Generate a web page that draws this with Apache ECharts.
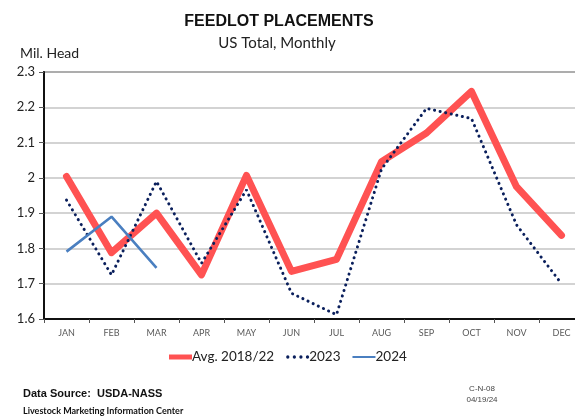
<!DOCTYPE html>
<html><head><meta charset="utf-8">
<script src="https://cdn.jsdelivr.net/npm/echarts@6/dist/echarts.min.js"></script>
<style>html,body{margin:0;padding:0;background:#fff;overflow:hidden;width:575px;height:416px}#c{width:585px;height:416px}</style>
</head><body><div id="c"></div>
<script>
const months = ['JAN','FEB','MAR','APR','MAY','JUN','JUL','AUG','SEP','OCT','NOV','DEC'];
const avg1822 = [2.004, 1.788, 1.900, 1.725, 2.007, 1.735, 1.769, 2.046, 2.127, 2.245, 1.975, 1.837];
const y2023 = [1.937, 1.725, 1.990, 1.758, 1.966, 1.673, 1.612, 2.025, 2.197, 2.168, 1.867, 1.700];
const y2024 = [1.791, 1.890, 1.745];
const yTicks = [1.6, 1.7, 1.8, 1.9, 2.0, 2.1, 2.2, 2.3];

const dotsPath = 'path://M1,4 a1.5,1.5 0 1,0 3,0 a1.5,1.5 0 1,0 -3,0 Z M7,4 a1.5,1.5 0 1,0 3,0 a1.5,1.5 0 1,0 -3,0 Z M13,4 a1.5,1.5 0 1,0 3,0 a1.5,1.5 0 1,0 -3,0 Z M19,4 a1.5,1.5 0 1,0 3,0 a1.5,1.5 0 1,0 -3,0 Z';

const chart = echarts.init(document.getElementById('c'), null, {renderer:'canvas'});
chart.setOption({
  animation:false,
  backgroundColor:'#fff',
  grid:{left:44, right:1, top:72, bottom:97, show:true, borderColor:'#3a3a3a', borderWidth:1.5, backgroundColor:'transparent', containLabel:false},
  xAxis:{type:'category', data:months, boundaryGap:true,
    axisLine:{lineStyle:{color:'#111', width:2}},
    axisTick:{show:true, length:4, lineStyle:{color:'#555', width:1}},
    axisLabel:{color:'#595959', fontSize:9, fontFamily:'Lato, sans-serif', margin:10}},
  yAxis:{type:'value', min:1.6, max:2.3, interval:0.1,
    axisLine:{show:true, lineStyle:{color:'#111', width:2}},
    axisTick:{show:true, length:5, lineStyle:{color:'#555'}},
    splitLine:{lineStyle:{color:'#c4c4c4', width:1.6}},
    axisLabel:{color:'#222', fontSize:13, fontFamily:'Lato, sans-serif', margin:9,
      formatter:v=>{const r=Math.round(v*10)/10; return yTicks.includes(r)? (r===2?'2':r.toFixed(1)) : '';}}},
  legend:{top:345, left:164, itemGap:12, itemWidth:23, itemHeight:8,
    textStyle:{fontSize:13.5, color:'#222', fontFamily:'Lato, sans-serif', padding:[0,0,0,-5]},
    data:[
      {name:'Avg. 2018/22', icon:'path://M0,2 L23,2 L23,7 L0,7 Z', itemStyle:{color:'#ff5252'}},
      {name:'2023', icon:dotsPath, itemStyle:{color:'#0a1f5c'}},
      {name:'2024', icon:'path://M0,3.2 L23,3.2 L23,5.2 L0,5.2 Z', itemStyle:{color:'#4a7fc0'}}
    ]},
  series:[
    {name:'Avg. 2018/22', type:'line', data:avg1822, symbol:'none', z:2,
      lineStyle:{color:'#ff5252', width:7, cap:'round', join:'round'}, itemStyle:{color:'#ff5252'}},
    {name:'2023', type:'line', data:y2023, symbol:'none', z:3,
      lineStyle:{color:'#0a1f5c', width:3, type:[0.1,5.6], cap:'round'}, itemStyle:{color:'#0a1f5c'}},
    {name:'2024', type:'line', data:y2024, symbol:'none', z:4,
      lineStyle:{color:'#4a7fc0', width:2.6}, itemStyle:{color:'#4a7fc0'}}
  ],
  graphic:[
    {type:'text', x:279, y:14, style:{text:'FEEDLOT PLACEMENTS', align:'center', font:'bold 16px "Liberation Sans", Arial, sans-serif', fill:'#111'}},
    {type:'text', x:277, y:36, style:{text:'US Total, Monthly', align:'center', font:'15px Lato, sans-serif', fill:'#222'}},
    {type:'text', x:20, y:46, style:{text:'Mil. Head', font:'14px Lato, sans-serif', fill:'#222'}},
    {type:'text', x:23, y:388, style:{text:'Data Source:  USDA-NASS', font:'bold 11px "Liberation Sans", Arial, sans-serif', fill:'#111'}},
    {type:'text', x:23, y:407, style:{text:'Livestock Marketing Information Center', font:'bold 9px Lato, sans-serif', fill:'#111'}},
    {type:'text', x:482, y:385, style:{text:'C-N-08', align:'center', font:'8px "Liberation Sans", Arial, sans-serif', fill:'#444'}},
    {type:'text', x:482, y:396, style:{text:'04/19/24', align:'center', font:'8px "Liberation Sans", Arial, sans-serif', fill:'#444'}}
  ]
});
</script></body></html>
